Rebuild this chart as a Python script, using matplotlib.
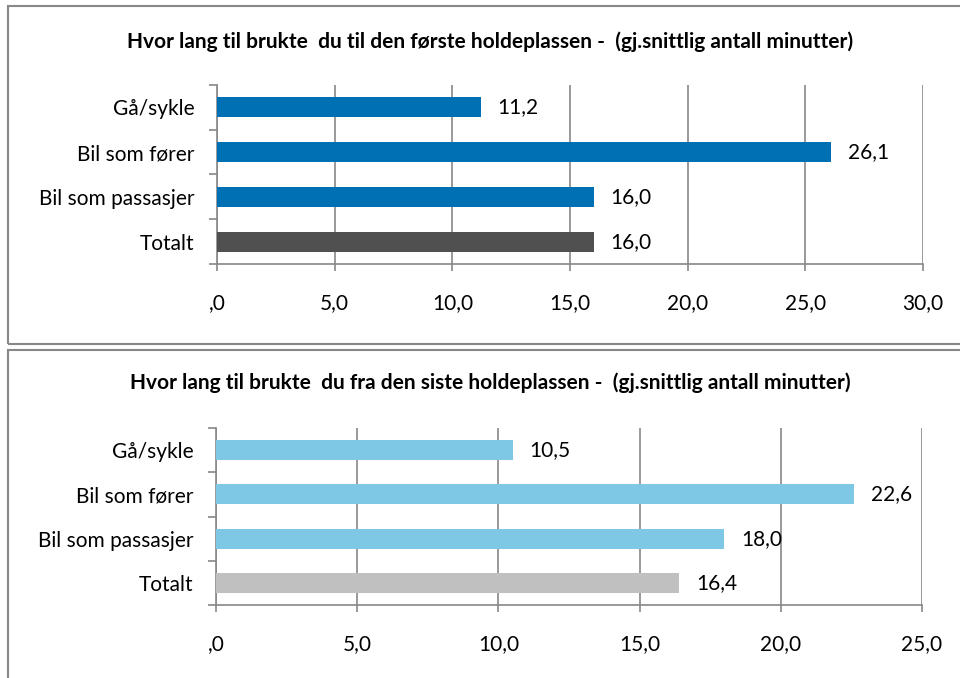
import matplotlib
matplotlib.use('Agg')
import matplotlib.pyplot as plt
from matplotlib.patches import Rectangle
from matplotlib.ticker import FixedLocator

plt.rcParams['font.family'] = ['Lato', 'DejaVu Sans']

categories = ['Gå/sykle', 'Bil som fører', 'Bil som passasjer', 'Totalt']

title_top = 'Hvor lang til brukte  du til den første holdeplassen -  (gj.snittlig antall minutter)'
values_top = [11.2, 26.1, 16.0, 16.0]
ticks_top = [0, 5, 10, 15, 20, 25, 30]
ticklabels_top = [',0', '5,0', '10,0', '15,0', '20,0', '25,0', '30,0']

title_bottom = 'Hvor lang til brukte  du fra den siste holdeplassen -  (gj.snittlig antall minutter)'
values_bottom = [10.5, 22.6, 18.0, 16.4]
ticks_bottom = [0, 5, 10, 15, 20, 25]
ticklabels_bottom = [',0', '5,0', '10,0', '15,0', '20,0', '25,0']

colors_top = ['#0070b4', '#0070b4', '#0070b4', '#505050']
colors_bottom = ['#7ec8e6', '#7ec8e6', '#7ec8e6', '#c0c0c0']

W, H = 960, 678
fig = plt.figure(figsize=(9.6, 6.78), dpi=100)

grey = '#888888'
fs = 15

# panel frames
fig.patches.append(Rectangle((8 / W, 1 - 344 / H), 1.0, 338 / H, transform=fig.transFigure,
                             fill=False, edgecolor=grey, lw=1.5))
fig.patches.append(Rectangle((8 / W, -0.1), 1.0, 0.1 + (678 - 350) / H, transform=fig.transFigure,
                             fill=False, edgecolor=grey, lw=1.5))


def panel(rect, title, title_y, values, colors, ticks, ticklabels):
    l, t, r, b = rect
    ax = fig.add_axes([l / W, 1 - b / H, (r - l) / W, (b - t) / H])
    y = list(range(len(categories)))
    ax.barh(y, values, height=0.45, color=colors, zorder=3)
    for yi, v in zip(y, values):
        ax.annotate(f'{v:.1f}'.replace('.', ','), (v, yi), xytext=(12, 0),
                    textcoords='offset points', va='center', ha='left', fontsize=fs)
    ax.set_ylim(len(categories) - 0.5, -0.5)
    ax.set_xlim(ticks[0], ticks[-1])
    ax.set_yticks(y)
    ax.set_yticklabels(categories, fontsize=fs)
    ax.yaxis.set_minor_locator(FixedLocator([i - 0.5 for i in range(len(categories) + 1)]))
    ax.tick_params(axis='y', which='major', length=0, pad=16)
    ax.tick_params(axis='y', which='minor', length=6, color=grey, width=1.2)
    ax.set_xticks(ticks)
    ax.set_xticklabels(ticklabels, fontsize=fs)
    ax.tick_params(axis='x', length=5, color=grey, width=1.2, pad=16)
    ax.grid(axis='x', color=grey, lw=1.2, zorder=0)
    for s in ['top', 'right']:
        ax.spines[s].set_visible(False)
    for s in ['left', 'bottom']:
        ax.spines[s].set_color(grey)
        ax.spines[s].set_linewidth(1.2)
    fig.text(490 / W, 1 - title_y / H, title, ha='center', va='center',
             fontsize=15, fontweight='bold')
    return ax


panel((217, 85, 923, 264), title_top, 42, values_top, colors_top, ticks_top, ticklabels_top)
panel((216, 428, 922, 605), title_bottom, 383, values_bottom, colors_bottom, ticks_bottom, ticklabels_bottom)

fig.savefig('out.png', dpi=100, facecolor='white')
